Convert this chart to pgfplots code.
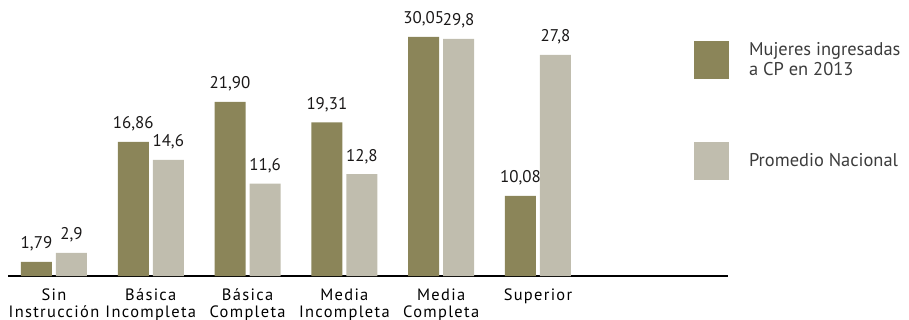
\documentclass[border=0pt]{standalone}
\usepackage{pgfplots}
\usepackage{pgfplotstable}
\pgfplotsset{compat=1.18}
\usepackage{fontspec}
\setmainfont{PT Sans}
\newfontfamily\tickfont[LetterSpace=8]{PT Sans}

\definecolor{olivebar}{RGB}{139,133,89}
\definecolor{greybar}{RGB}{192,189,174}
\definecolor{labeltext}{RGB}{26,24,24}
\definecolor{legendtext}{RGB}{60,60,60}

% education level, share (%) and printed label
\pgfplotstableread{
x y lab
0 1.79 1,79
1 16.86 16,86
2 21.90 21,90
3 19.31 19,31
4 30.05 30,05
5 10.08 10,08
}\mujeres
\pgfplotstableread{
x y lab
0 2.9 2,9
1 14.6 14,6
2 11.6 11,6
3 12.8 12,8
4 29.8 29,8
5 27.8 27,8
}\nacional

\begin{document}
\begin{tikzpicture}
\useasboundingbox (-8bp,-44bp) rectangle (901bp,276bp);
\begin{axis}[
  scale only axis,
  width=720bp, height=276bp,
  xmin=-0.475, xmax=6.963,
  ymin=0, ymax=34.7,
  axis x line=bottom, axis y line=none,
  x axis line style={-, line width=1.3bp, black},
  ybar=4bp, bar width=31bp,
  xtick={0,1,2,3,4,5},
  % every label has two lines so that all baselines line up
  xticklabels={Sin\\Instrucción, Básica\\Incompleta, Básica\\Completa,
               Media\\Incompleta, Media\\Completa, Superior\\\mbox{}},
  major tick length=0pt,
  xticklabel style={align=center, inner sep=0pt, anchor=base, yshift=-41bp,
    font=\tickfont\fontsize{16.5}{16.6}\selectfont, text=black},
  nodes near coords,
  point meta=explicit symbolic,
  every node near coord/.append style={font=\fontsize{17}{17}\selectfont,
    text=labeltext, anchor=base, inner sep=0pt, yshift=13bp},
  clip=false,
  legend style={at={(0.9528,0.8514)}, anchor=north west, draw=none, fill=none,
    inner sep=0pt, outer sep=0pt, column sep=20bp, row sep=63bp,
    font=\fontsize{18.5}{20}\selectfont, text=legendtext,
    nodes={inner sep=0pt},
    cells={anchor=west, align=left}},
  legend image code/.code={\draw[#1, draw=none] (0bp,-19bp) rectangle (35bp,19bp);},
]
\addplot[fill=olivebar, draw=none] table[x=x, y=y, meta=lab] {\mujeres};
\addlegendentry{Mujeres ingresadas\\a CP en 2013}
\addplot[fill=greybar, draw=none] table[x=x, y=y, meta=lab] {\nacional};
\addlegendentry{Promedio Nacional}
\end{axis}
\end{tikzpicture}
\end{document}
